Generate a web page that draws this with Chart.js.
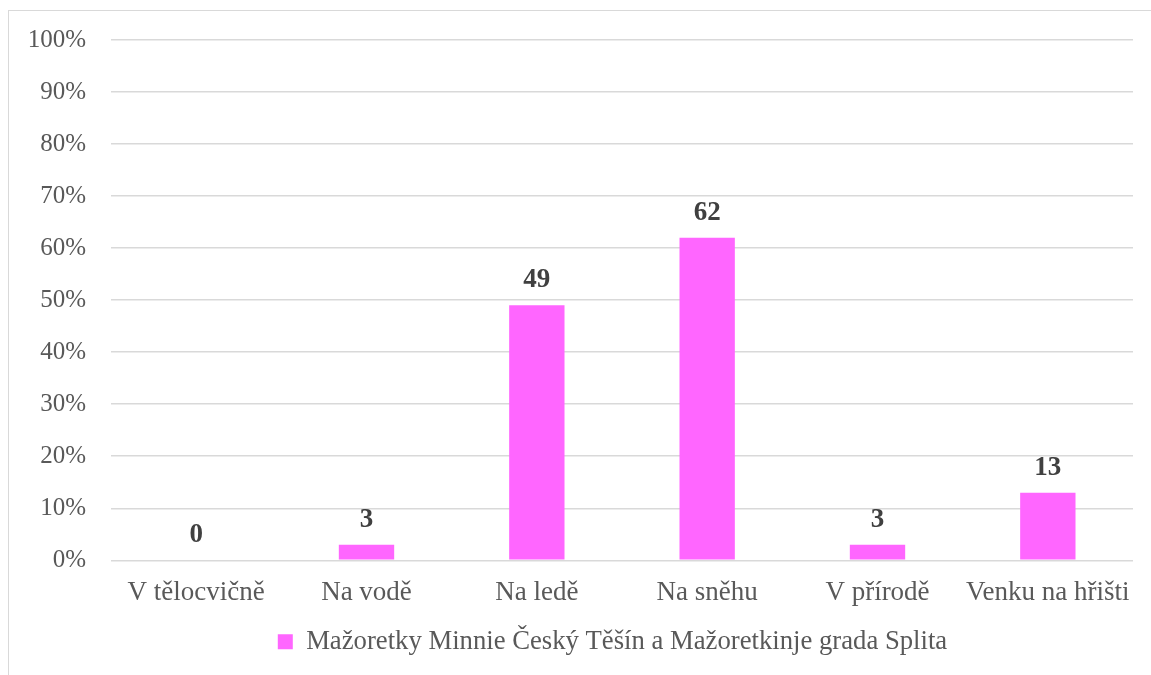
<!DOCTYPE html>
<html>
<head>
<meta charset="utf-8">
<script src="https://cdn.jsdelivr.net/npm/chart.js@4/dist/chart.umd.min.js"></script>
<style>
  html, body { margin: 0; padding: 0; background: #fff; }
  #wrap { position: relative; width: 1151px; height: 675px; overflow: hidden; }
  #frame { position: absolute; left: 8px; top: 10px; width: 1200px; height: 720px;
           border: 1px solid #d9d9d9; box-sizing: border-box; }
  canvas { position: absolute; left: 0; top: 0; }
</style>
</head>
<body>
<div id="wrap">
  <div id="frame"></div>
  <canvas id="c" width="1151" height="675"></canvas>
</div>
<script>
// Where the majorettes train (share of answers, %)
const categories = ['V tělocvičně', 'Na vodě', 'Na ledě', 'Na sněhu', 'V přírodě', 'Venku na hřišti'];
const seriesName = 'Mažoretky Minnie Český Těšín a Mažoretkinje grada Splita';
const values = [0, 3, 49, 62, 3, 13];
const yTicks = [0, 10, 20, 30, 40, 50, 60, 70, 80, 90, 100];

const FONT = "'Liberation Serif', 'Times New Roman', serif";
const TEXT = '#595959';
const BAR = '#ff66ff';

// value labels above each bar
const valueLabels = {
  id: 'valueLabels',
  afterDatasetsDraw(chart) {
    const ctx = chart.ctx;
    const meta = chart.getDatasetMeta(0);
    ctx.save();
    ctx.font = 'bold 27px ' + FONT;
    ctx.fillStyle = '#404040';
    ctx.textAlign = 'center';
    ctx.textBaseline = 'middle';
    meta.data.forEach((bar, i) => {
      ctx.fillText(String(values[i]), bar.x, bar.y - 25);
    });
    ctx.restore();
  }
};

// centre the legend under the plot area rather than the whole canvas
const legendUnderPlot = {
  id: 'legendUnderPlot',
  afterLayout(chart) {
    const lg = chart.legend;
    const shift = 42;
    lg.left += shift;
    lg.right += shift;
  }
};

new Chart(document.getElementById('c'), {
  type: 'bar',
  data: {
    labels: categories,
    datasets: [{
      label: seriesName,
      data: values,
      backgroundColor: BAR,
      borderWidth: 0,
      categoryPercentage: 1,
      barPercentage: 0.325
    }]
  },
  options: {
    responsive: false,
    animation: false,
    layout: { padding: { left: 8, right: 18, top: 31, bottom: 10 } },
    scales: {
      x: {
        grid: { display: false },
        border: { display: false },
        ticks: { color: TEXT, font: { family: FONT, size: 27 }, padding: 8, maxRotation: 0 },
        afterFit(scale) { scale.height = 54; }
      },
      y: {
        min: 0, max: 100,
        afterBuildTicks(scale) { scale.ticks = yTicks.map(v => ({ value: v })); },
        grid: { color: '#d9d9d9', lineWidth: 1.5, drawTicks: false },
        border: { display: false },
        ticks: { color: TEXT, font: { family: FONT, size: 25 }, padding: 25,
                 callback: v => v + '%' },
        afterFit(scale) { scale.width = 103; }
      }
    },
    plugins: {
      legend: {
        position: 'bottom',
        labels: { color: TEXT, font: { family: FONT, size: 26.7 }, boxWidth: 15, boxHeight: 15, padding: 14 }
      },
      tooltip: { enabled: false }
    }
  },
  plugins: [valueLabels, legendUnderPlot]
});
</script>
</body>
</html>
